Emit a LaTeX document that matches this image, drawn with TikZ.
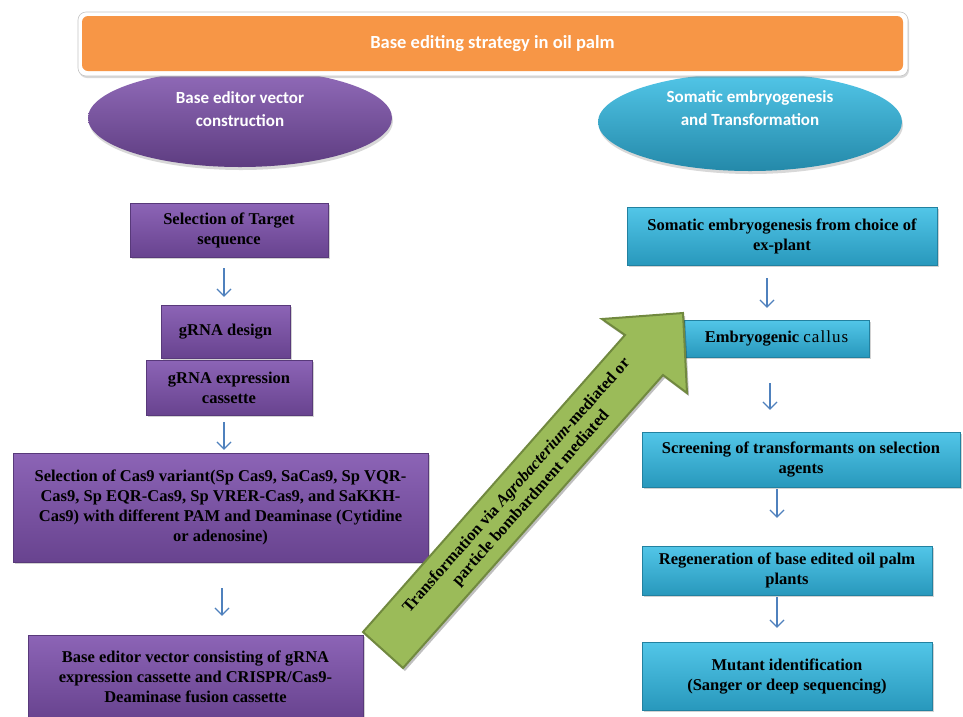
\documentclass[tikz,border=0pt]{standalone}
\usepackage{fontspec}
\setmainfont{Liberation Serif}
\newfontfamily\calfont{Carlito}
\usetikzlibrary{arrows.meta,shadows,calc,shapes.geometric}
\definecolor{orangeT}{HTML}{F79646}
\definecolor{purpT}{HTML}{8C64B6}
\definecolor{purpB}{HTML}{68438F}
\definecolor{tealT}{HTML}{52C6E8}
\definecolor{tealB}{HTML}{2898BC}
\definecolor{greenA}{HTML}{9BBB59}
\definecolor{greenD}{HTML}{71893F}
\definecolor{flowblue}{HTML}{4F81BD}
\begin{document}
\begin{tikzpicture}[x=1pt,y=-1pt,
  boxtext/.style={font=\bfseries\fontsize{16.5}{20}\selectfont, align=center, text=black, inner sep=2pt},
  pbox/.style={boxtext, rectangle, top color=purpT, bottom color=purpB, draw=purpB!85!black, line width=0.4pt,
     drop shadow={opacity=0.35, shadow xshift=2pt, shadow yshift=-2pt}},
  tbox/.style={boxtext, rectangle, top color=tealT, bottom color=tealB, draw=tealB!85!black, line width=0.4pt,
     drop shadow={opacity=0.35, shadow xshift=2pt, shadow yshift=-2pt}},
  ellbox/.style={ellipse, minimum width=304pt, minimum height=98pt, inner sep=0pt,
     drop shadow={opacity=0.3, shadow xshift=1pt, shadow yshift=-3pt}},
  elltext/.style={font=\calfont\bfseries\fontsize{17}{22.5}\selectfont, text=white, align=center},
  flow/.style={draw=flowblue, line width=1.2pt, -{Straight Barb[length=7pt,width=14pt,line width=1.2pt]}}
]
\useasboundingbox (0,0) rectangle (963,716);
\fill[white] (0,0) rectangle (963,716);

% ellipses
\node[ellbox, top color=purpT!95!white, bottom color=purpB!90!black] (lell) at (240,118) {};
\node[elltext] (lelltxt) at (240,109) {Base editor vector\\construction};
\node[ellbox, top color=tealT, bottom color=tealB!90!black] (rell) at (750,122) {};
\node[elltext] (relltxt) at (750,108) {Somatic embryogenesis\\and Transformation};

% title
\node[rectangle, rounded corners=8pt, fill=white, draw=gray!45, line width=0.6pt,
      minimum width=830pt, minimum height=64pt,
      drop shadow={opacity=0.3, shadow xshift=1pt, shadow yshift=-2pt}] (frame) at (493,44) {};
\node[rectangle, rounded corners=6pt, fill=orangeT, minimum width=821pt, minimum height=55pt,
      font=\calfont\bfseries\fontsize{18.5}{22}\selectfont, text=white] (title) at (492.5,43.5) {Base editing strategy in oil palm};

% left column
\node[pbox, minimum width=198pt, minimum height=54pt] (tgt) at (229,230) {Selection of Target\\sequence};
\node[pbox, minimum width=129pt, minimum height=53pt] (gd) at (225.5,331.5) {gRNA design};
\node[pbox, minimum width=166pt, minimum height=55pt] (ge) at (229,387.5) {gRNA expression\\cassette};
\node[pbox, minimum width=415pt, minimum height=109pt] (cas) at (220.5,507.5)
  {\fontsize{16.5}{18}\selectfont Selection of Cas9 variant(Sp Cas9, SaCas9, Sp VQR-\\
   Cas9, Sp EQR-Cas9, Sp VRER-Cas9, and SaKKH-\\
   Cas9) with different PAM and Deaminase (Cytidine\\
   or adenosine)};
\node[pbox, minimum width=335pt, minimum height=84pt] (vec) at (195.5,677)
  {\fontsize{16.5}{17}\selectfont Base editor vector consisting of gRNA\\expression cassette and CRISPR/Cas9-\\Deaminase fusion cassette};

% right column
\node[tbox, minimum width=310pt, minimum height=58pt] (som) at (782,236) {Somatic embryogenesis from choice of\\ex-plant};
\node[tbox, minimum width=185pt, minimum height=37pt] (cal) at (776.5,338.5) {Embryogenic {\mdseries\addfontfeature{LetterSpace=6}\fontsize{17}{20}\selectfont callus}};
\node[tbox, minimum width=318pt, minimum height=55pt] (scr) at (801,459.5) {Screening of transformants on selection\\agents};
\node[tbox, minimum width=290pt, minimum height=49pt] (reg) at (787,570.5) {Regeneration of base edited oil palm\\plants};
\node[tbox, minimum width=290pt, minimum height=68pt] (mut) at (787,676) {Mutant identification\\(Sanger or deep sequencing)};

% flow arrows
\draw[flow] ([xshift=-5pt,yshift=-11pt]tgt.south) -- ([xshift=-5pt,yshift=8pt]tgt.south |- gd.north);
\draw[flow] ([xshift=-5pt,yshift=-7pt]ge.south) -- ([xshift=-5pt,yshift=3pt]ge.south |- cas.north);
\draw[flow] ([xshift=1.5pt,yshift=-26pt]cas.south) -- ([xshift=1.5pt,yshift=19pt]cas.south |- vec.north);
\draw[flow] ([xshift=-15pt,yshift=-13pt]som.south) -- ([xshift=-15pt,yshift=12pt]som.south |- cal.north);
\draw[flow] ([xshift=-6.5pt,yshift=-26pt]cal.south) -- ([xshift=-6.5pt,yshift=22pt]cal.south |- scr.north);
\draw[flow] ([xshift=-24pt,yshift=-2pt]scr.south) -- ([xshift=-24pt,yshift=28pt]scr.south |- reg.north);
\draw[flow] ([xshift=-10pt,yshift=-2pt]reg.south) -- ([xshift=-10pt,yshift=14pt]reg.south |- mut.north);

% big green arrow
\coordinate (t1) at (363,632);
\coordinate (t2) at (403,668);
\coordinate (s2) at (663,375);
\coordinate (b2) at (687,393);
\coordinate (tip) at (683,313);
\coordinate (b1) at (602,319);
\coordinate (s1) at (625,335);
\fill[black, opacity=0.25] ([shift={(2pt,-3pt)}]t1) -- ([shift={(2pt,-3pt)}]t2) -- ([shift={(2pt,-3pt)}]s2) -- ([shift={(2pt,-3pt)}]b2)
   -- ([shift={(2pt,-3pt)}]tip) -- ([shift={(2pt,-3pt)}]b1) -- ([shift={(2pt,-3pt)}]s1) -- cycle;
\draw[fill=greenA, draw=greenD, line width=2pt, line join=miter] (t1) -- (t2) -- (s2) -- (b2) -- (tip) -- (b1) -- (s1) -- cycle;
\node[font=\bfseries\fontsize{16.5}{19}\selectfont, align=center, rotate=48.5, text=black, inner sep=0pt] (gtxt) at (524,492)
  {Transformation via \textit{Agrobacterium}-mediated or\\particle bombardment mediated};
\end{tikzpicture}
\end{document}
